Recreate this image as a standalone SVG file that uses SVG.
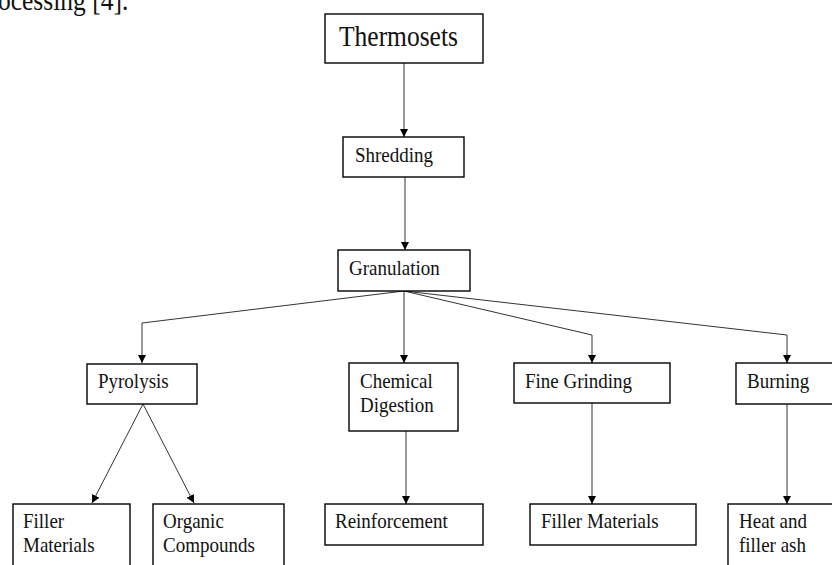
<svg xmlns="http://www.w3.org/2000/svg" width="832" height="565" viewBox="0 0 832 565">
<style>
.box{fill:#fff;stroke:#000;stroke-width:1.4}
.t{font-family:"Liberation Serif","Times New Roman",serif;font-size:19px;fill:#111}
.big{font-size:25.5px}
.c{fill:none;stroke:#333;stroke-width:1}
</style>
<defs>
<marker id="ah" markerUnits="userSpaceOnUse" markerWidth="9" markerHeight="8" refX="8" refY="4" orient="auto">
<path d="M0,0 L8,4 L0,8 Z" fill="#000"/>
</marker>
</defs>
<rect width="832" height="565" fill="#fff"/>
<text class="t big" transform="translate(-2,10) scale(1,1.12)">ocessing [4].</text>
<g id="connectors">
<path class="c" d="M404,63 V137" marker-end="url(#ah)"/>
<path class="c" d="M405,177 V250" marker-end="url(#ah)"/>
<path class="c" d="M404,291 L142,323 V363" marker-end="url(#ah)"/>
<path class="c" d="M404,291 V363" marker-end="url(#ah)"/>
<path class="c" d="M404,291 L592,335 V363" marker-end="url(#ah)"/>
<path class="c" d="M404,291 L787,335 V363" marker-end="url(#ah)"/>
<path class="c" d="M143,404 L92,503" marker-end="url(#ah)"/>
<path class="c" d="M143,404 L194,503" marker-end="url(#ah)"/>
<path class="c" d="M406,431 V504" marker-end="url(#ah)"/>
<path class="c" d="M592,403 V504" marker-end="url(#ah)"/>
<path class="c" d="M787,404 V504" marker-end="url(#ah)"/>
</g>
<g id="thermosets"><rect class="box" x="325" y="14" width="158" height="49"/><text class="t big" transform="translate(339,46) scale(1,1.12)">Thermosets</text></g>
<g id="shredding"><rect class="box" x="343" y="137" width="121" height="40"/><text class="t" transform="translate(355,162) scale(1,1.12)">Shredding</text></g>
<g id="granulation"><rect class="box" x="338" y="250" width="132" height="41"/><text class="t" transform="translate(349,275) scale(1,1.12)">Granulation</text></g>
<g id="pyrolysis"><rect class="box" x="87" y="364" width="110" height="40"/><text class="t" transform="translate(98,388) scale(1,1.12)">Pyrolysis</text></g>
<g id="chemical"><rect class="box" x="349" y="363" width="109" height="68"/><text class="t" transform="translate(360,388) scale(1,1.12)">Chemical</text><text class="t" transform="translate(360,412) scale(1,1.12)">Digestion</text></g>
<g id="finegrinding"><rect class="box" x="514" y="363" width="156" height="40"/><text class="t" transform="translate(525,388) scale(1,1.12)">Fine Grinding</text></g>
<g id="burning"><rect class="box" x="736" y="363" width="110" height="41"/><text class="t" transform="translate(747,388) scale(1,1.12)">Burning</text></g>
<g id="filler1"><rect class="box" x="13" y="504" width="117" height="80"/><text class="t" transform="translate(23,528) scale(1,1.12)">Filler</text><text class="t" transform="translate(23,552) scale(1,1.12)">Materials</text></g>
<g id="organic"><rect class="box" x="153" y="504" width="131" height="80"/><text class="t" transform="translate(163,528) scale(1,1.12)">Organic</text><text class="t" transform="translate(163,552) scale(1,1.12)">Compounds</text></g>
<g id="reinforcement"><rect class="box" x="325" y="504" width="158" height="41"/><text class="t" transform="translate(335,528) scale(1,1.12)">Reinforcement</text></g>
<g id="filler2"><rect class="box" x="530" y="504" width="166" height="41"/><text class="t" transform="translate(541,528) scale(1,1.12)">Filler Materials</text></g>
<g id="heat"><rect class="box" x="728" y="504" width="120" height="80"/><text class="t" transform="translate(739,528) scale(1,1.12)">Heat and</text><text class="t" transform="translate(739,552) scale(1,1.12)">filler ash</text></g>
</svg>
